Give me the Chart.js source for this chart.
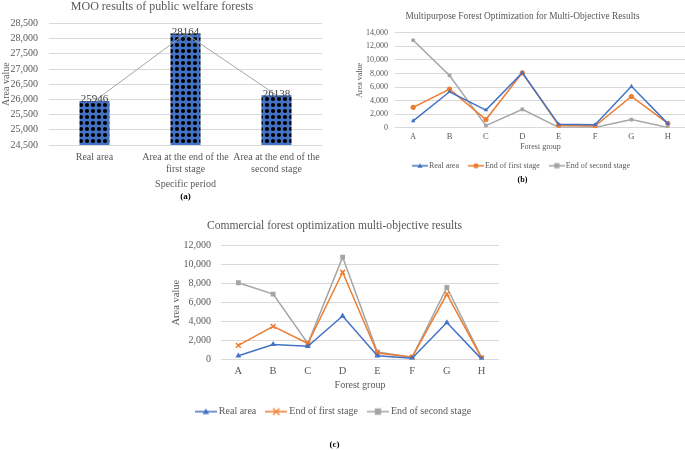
<!DOCTYPE html>
<html lang="en">
<head>
<meta charset="UTF-8">
<title>Forest optimization results</title>
<script src="https://cdn.jsdelivr.net/npm/chart.js"></script>
<style>
  body { margin: 0; background: #fff; width: 685px; height: 450px; position: relative; overflow: hidden; }
  .box { position: absolute; }
  #boxA { left: 0; top: 0; width: 326px; height: 205px; }
  #boxB { left: 353px; top: 0; width: 337px; height: 200px; }
  #boxC { left: 160px; top: 210px; width: 348px; height: 240px; }
</style>
</head>
<body>
<div class="box" id="boxA"><canvas id="chartA"></canvas></div>
<div class="box" id="boxB"><canvas id="chartB"></canvas></div>
<div class="box" id="boxC"><canvas id="chartC"></canvas></div>

<script>
// (a) public welfare forests
var periodLabels = ['Real area', ['Area at the end of the', 'first stage'], ['Area at the end of the', 'second stage']];
var periodValues = [25946, 28164, 26138];

// (b) multipurpose forest
var groupLabels = ['A', 'B', 'C', 'D', 'E', 'F', 'G', 'H'];
var multiReal   = [1000, 5300, 2600, 8100, 500, 450, 6100, 600];
var multiFirst  = [3000, 5700, 1200, 8100, 350, 250, 4600, 650];
var multiSecond = [12900, 7700, 300, 2700, 50, 50, 1200, 50];

// (c) commercial forest
var commReal   = [400, 1600, 1400, 4600, 400, 150, 3900, 50];
var commFirst  = [1500, 3500, 1700, 9200, 700, 250, 6900, 150];
var commSecond = [8100, 6900, 1700, 10800, 800, 250, 7600, 200];

var seriesNames = ['Real area', 'End of first stage', 'End of second stage'];

var FONT = '"Liberation Serif", "Times New Roman", serif';
var TXT = '#595959';
var GRID = '#D9D9D9';
var BLUE = '#4472C4', ORANGE = '#ED7D31', GRAY = '#A5A5A5';

Chart.defaults.font.family = FONT;
Chart.defaults.color = TXT;
Chart.defaults.animation = false;

// dotted fill like the excel pattern
function dotPattern() {
    var c = document.createElement('canvas');
    c.width = 6; c.height = 6;
    var g = c.getContext('2d');
    g.fillStyle = BLUE;
    g.fillRect(0, 0, 6, 6);
    g.fillStyle = '#000';
    g.beginPath();
    g.arc(3, 3, 2.1, 0, Math.PI * 2);
    g.fill();
    return g.createPattern(c, 'repeat');
}

function drawMarker(g, style, x, y, r, color) {
    g.fillStyle = color;
    g.strokeStyle = color;
    g.beginPath();
    if (style === 'triangle') {
        g.moveTo(x, y - r);
        g.lineTo(x + r, y + r * 0.8);
        g.lineTo(x - r, y + r * 0.8);
        g.closePath();
        g.fill();
    } else if (style === 'circle') {
        g.arc(x, y, r, 0, Math.PI * 2);
        g.fill();
    } else if (style === 'rect') {
        g.rect(x - r, y - r, r * 2, r * 2);
        g.fill();
    } else if (style === 'crossRot') {
        g.lineWidth = 1.3;
        g.moveTo(x - r, y - r); g.lineTo(x + r, y + r);
        g.moveTo(x + r, y - r); g.lineTo(x - r, y + r);
        g.stroke();
    }
}

// legend icon: short line with the marker in the middle
function legendIcon(color, style, w, r) {
    var c = document.createElement('canvas');
    c.width = w; c.height = 10;
    var g = c.getContext('2d');
    g.strokeStyle = color;
    g.lineWidth = 1.5;
    g.beginPath();
    g.moveTo(0, 5); g.lineTo(w, 5);
    g.stroke();
    drawMarker(g, style, w / 2, 5, r, color);
    return c;
}

var barLabels = {
    id: 'barLabels',
    afterDatasetsDraw: function (chart) {
        var meta = chart.getDatasetMeta(1);
        var ctx = chart.ctx;
        ctx.save();
        ctx.font = '11px ' + FONT;
        ctx.fillStyle = '#404040';
        ctx.textAlign = 'center';
        ctx.textBaseline = 'bottom';
        meta.data.forEach(function (bar, i) {
            ctx.fillText(String(periodValues[i]), bar.x, bar.y + 4);
        });
        ctx.restore();
    }
};

new Chart(document.getElementById('chartA'), {
    data: {
        labels: periodLabels,
        datasets: [{
            type: 'line',
            data: periodValues,
            borderColor: GRAY,
            borderWidth: 1,
            pointRadius: 0,
            order: 0
        }, {
            type: 'bar',
            data: periodValues,
            backgroundColor: dotPattern(),
            categoryPercentage: 0.33,
            barPercentage: 1,
            order: 1
        }]
    },
    options: {
        responsive: true,
        maintainAspectRatio: false,
        layout: { padding: { left: 0, right: 2, top: 0, bottom: 0 } },
        plugins: {
            legend: { display: false },
            tooltip: { enabled: false },
            title: {
                display: true,
                text: 'MOO results of public welfare forests',
                font: { size: 12, weight: 'normal' },
                padding: { top: 0, bottom: 9 }
            },
            subtitle: {
                display: true,
                position: 'bottom',
                fullSize: false,
                text: '(a)',
                color: '#000',
                font: { size: 9, weight: 'bold' },
                padding: { top: 4, bottom: 2.5 }
            }
        },
        scales: {
            x: {
                afterFit: function (s) { s.height = 42.7; },
                grid: { display: false, drawTicks: false },
                border: { display: false },
                ticks: { font: { size: 10 }, padding: 6, maxRotation: 0, autoSkip: false },
                title: { display: true, text: 'Specific period', font: { size: 10 }, padding: { top: 0, bottom: -2.5 } }
            },
            y: {
                min: 24500,
                max: 28500,
                afterFit: function (s) { s.width = 49; },
                grid: { color: GRID, drawTicks: false },
                border: { display: false },
                ticks: { stepSize: 500, font: { size: 10 }, padding: 11, autoSkip: false },
                title: { display: true, text: 'Area value', font: { size: 10 }, padding: { top: 0, bottom: 0 } }
            }
        }
    },
    plugins: [barLabels]
});

function lineChart(id, cfg) {
    var styles = ['triangle', cfg.firstStyle, 'rect'];
    var colors = [BLUE, ORANGE, GRAY];
    var icons = styles.map(function (s, i) { return legendIcon(colors[i], s, cfg.iconW, cfg.iconR); });
    var datasets = cfg.series.map(function (vals, i) {
        return {
            label: seriesNames[i],
            data: vals,
            borderColor: colors[i],
            backgroundColor: colors[i],
            borderWidth: 1.5,
            pointStyle: styles[i],
            pointRadius: cfg.pointR,
            pointBorderWidth: styles[i] === 'crossRot' ? 1.5 : 0
        };
    });
    return new Chart(document.getElementById(id), {
        type: 'line',
        data: { labels: groupLabels, datasets: datasets },
        options: {
            responsive: true,
            maintainAspectRatio: false,
            layout: { padding: cfg.pad },
            plugins: {
                tooltip: { enabled: false },
                title: {
                    display: true,
                    text: cfg.title,
                    font: { size: cfg.titleSize, weight: 'normal' },
                    padding: cfg.titlePad
                },
                legend: {
                    position: 'bottom',
                    labels: {
                        usePointStyle: true,
                        pointStyleWidth: cfg.iconW - 6,
                        padding: cfg.legendGap,
                        font: { size: cfg.legendSize },
                        color: TXT,
                        generateLabels: function (chart) {
                            return chart.data.datasets.map(function (ds, i) {
                                return {
                                    text: ds.label,
                                    pointStyle: icons[i],
                                    fillStyle: ds.borderColor,
                                    strokeStyle: ds.borderColor,
                                    lineWidth: 0,
                                    fontColor: TXT,
                                    hidden: false,
                                    datasetIndex: i
                                };
                            });
                        }
                    }
                },
                subtitle: {
                    display: true,
                    position: 'bottom',
                    text: cfg.tag,
                    color: '#000',
                    font: { size: cfg.tagSize, weight: 'bold' },
                    padding: cfg.tagPad
                }
            },
            scales: {
                x: {
                    offset: true,
                    afterFit: function (s) { s.height = cfg.xHeight; },
                    grid: { display: false, drawTicks: false },
                    border: { display: false },
                    ticks: { font: { size: cfg.tickSize + 0.5 }, padding: cfg.xTickPad, autoSkip: false },
                    title: { display: true, text: 'Forest group', font: { size: cfg.tickSize }, padding: cfg.xTitlePad }
                },
                y: {
                    min: 0,
                    max: cfg.yMax,
                    afterFit: function (s) { s.width = cfg.yWidth; },
                    grid: { color: GRID, drawTicks: false },
                    border: { display: false },
                    ticks: { stepSize: 2000, font: { size: cfg.tickSize }, padding: cfg.yTickPad, autoSkip: false },
                    title: { display: true, text: 'Area value', font: { size: cfg.yTitleSize }, padding: { top: 0, bottom: 0 } }
                }
            }
        }
    });
}

lineChart('chartB', {
    title: 'Multipurpose Forest Optimization for Multi-Objective Results',
    series: [multiReal, multiFirst, multiSecond],
    firstStyle: 'circle',
    yMax: 14000,
    yWidth: 40,
    xHeight: 22,
    titleSize: 9.4,
    titlePad: { top: 11, bottom: 10.5 },
    tickSize: 8,
    yTitleSize: 8,
    legendSize: 8,
    legendGap: 12,
    iconW: 16,
    iconR: 2.6,
    pointR: 2.6,
    xTickPad: 4,
    yTickPad: 7,
    xTitlePad: { top: 0, bottom: -2 },
    tag: '(b)',
    tagSize: 8,
    tagPad: { top: -4.8, bottom: 15.5 },
    pad: { left: 2, right: 0, top: 0, bottom: 0 }
});

lineChart('chartC', {
    title: 'Commercial forest optimization multi-objective results',
    series: [commReal, commFirst, commSecond],
    firstStyle: 'crossRot',
    yMax: 12000,
    yWidth: 51,
    xHeight: 35,
    titleSize: 11.6,
    titlePad: { top: 9.4, bottom: 12.4 },
    tickSize: 10,
    yTitleSize: 10.5,
    legendSize: 10,
    legendGap: 12,
    iconW: 22,
    iconR: 3.2,
    pointR: 3.4,
    xTickPad: 5.7,
    yTickPad: 10,
    xTitlePad: { top: 0, bottom: 3 },
    tag: '(c)',
    tagSize: 9,
    tagPad: { top: 12.6, bottom: 0 },
    pad: { left: 10, right: 9, top: 0, bottom: 0 }
});
</script>
</body>
</html>
